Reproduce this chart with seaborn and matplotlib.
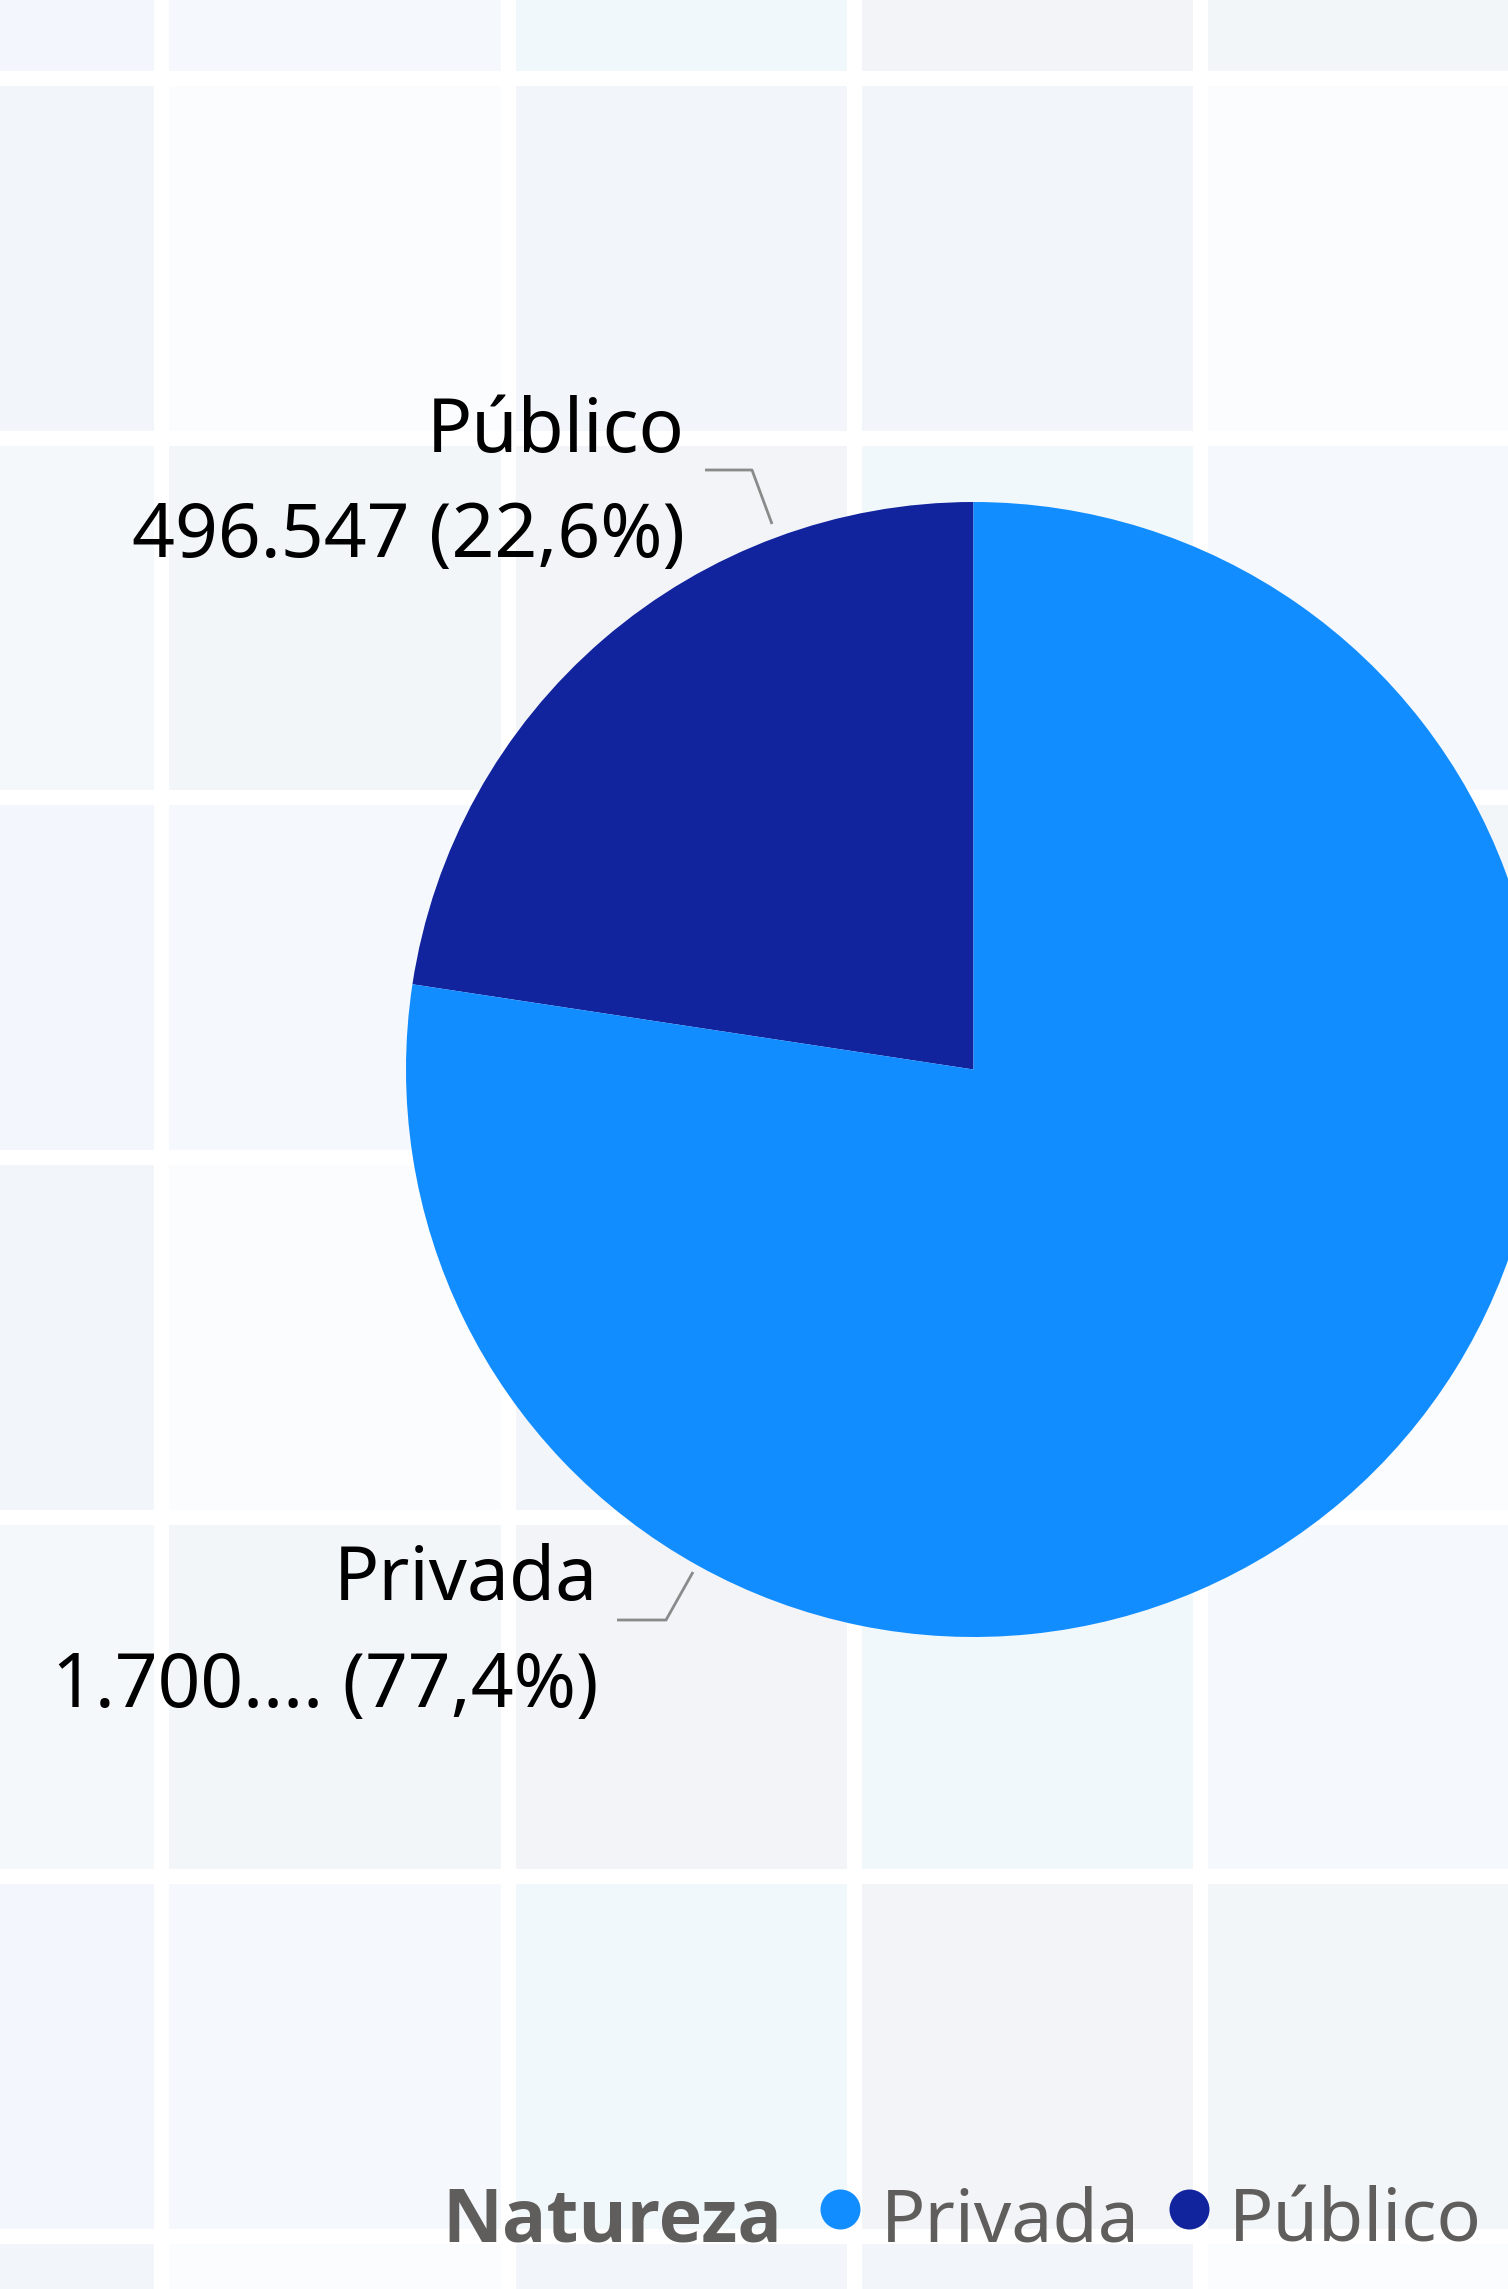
import numpy as np
import matplotlib.pyplot as plt
import seaborn as sns
from matplotlib.colors import ListedColormap

# Data: enrolments by type of institution
natureza = ['Privada', 'Público']
matriculas = [1700512, 496547]
cores = ['#118DFF', '#12239E']

# Background tiles (shade index per tile, the pattern repeats every 3 rows)
tile_colors = ['#F3F6FD', '#F5F9FE', '#F1F8FB', '#F3F4F8',
               '#F2F6F9', '#FBFCFE', '#F2F5F9', '#F4F8FA']
tile_rows = [
    [0, 1, 2, 3, 4],
    [6, 5, 6, 6, 5],
    [7, 4, 3, 2, 1],
]
tile_grid = np.array([tile_rows[i % 3] for i in range(8)])

W, H = 1508, 2289


def fy(y):
    # image row -> axes y (origin at bottom)
    return H - y


def fmt_br(v):
    return f"{v:,}".replace(',', '.')


sns.set_theme(style='white')
plt.rcParams['font.family'] = ['Noto Sans', 'DejaVu Sans']

fig = plt.figure(figsize=(W / 100, H / 100), dpi=100)
fig.patch.set_facecolor('white')

# Tiled background drawn as a heatmap, extending past the figure edges
x0, x1 = -184.7, 1546.0
y_top, y_bot = -281.7, 2595.7
ax_bg = fig.add_axes([x0 / W, 1 - y_bot / H, (x1 - x0) / W, (y_bot - y_top) / H])
sns.heatmap(tile_grid, cmap=ListedColormap(tile_colors), vmin=-0.5, vmax=len(tile_colors) - 0.5,
            cbar=False, linewidths=15 * 72 / 100, linecolor='white',
            xticklabels=False, yticklabels=False, ax=ax_bg)
ax_bg.set_axis_off()

# Main layer in pixel units
ax = fig.add_axes([0, 0, 1, 1])
ax.patch.set_alpha(0)

total = sum(matriculas)
ax.pie(matriculas[::-1], colors=cores[::-1], startangle=90, counterclock=True,
       center=(973.5, fy(1069.5)), radius=567.5, wedgeprops=dict(linewidth=0))
ax.set_xlim(0, W)
ax.set_ylim(0, H)
ax.set_aspect('auto')
ax.axis('off')

label_size = 54
line_col = '#8A8A8A'

# Público label
v = matriculas[1]
pct = f"{v / total * 100:.1f}".replace('.', ',')
ax.text(685, fy(452), natureza[1], ha='right', va='baseline', fontsize=label_size, color='black')
ax.text(685, fy(557), f"{fmt_br(v)} ({pct}%)", ha='right', va='baseline', fontsize=label_size, color='black')
ax.plot([705, 752, 772], [fy(470), fy(470), fy(524)], color=line_col, lw=2, solid_capstyle='butt')

# Privada label (value is truncated in the original)
v = matriculas[0]
pct = f"{v / total * 100:.1f}".replace('.', ',')
ax.text(598, fy(1600), natureza[0], ha='right', va='baseline', fontsize=label_size, color='black')
ax.text(598, fy(1707), f"{fmt_br(v)[:6]}... ({pct}%)", ha='right', va='baseline',
        fontsize=label_size, color='black')
ax.plot([617, 666, 693], [fy(1620), fy(1620), fy(1572)], color=line_col, lw=2, solid_capstyle='butt')

# Legend
leg_col = '#605E5C'
ax.text(442, fy(2242), 'Natureza', ha='left', va='baseline', fontsize=label_size - 1,
        fontweight='bold', family=['Open Sans', 'DejaVu Sans'], color=leg_col)
for name, cor, xd, xt in zip(natureza, cores, [840, 1189], [881, 1229]):
    ax.scatter([xd], [fy(2209)], s=(40 * 0.72) ** 2, color=cor, linewidths=0)
    ax.text(xt, fy(2242), name, ha='left', va='baseline', fontsize=label_size - 1, color=leg_col)

fig.savefig('out.png', dpi=100)
plt.close(fig)
